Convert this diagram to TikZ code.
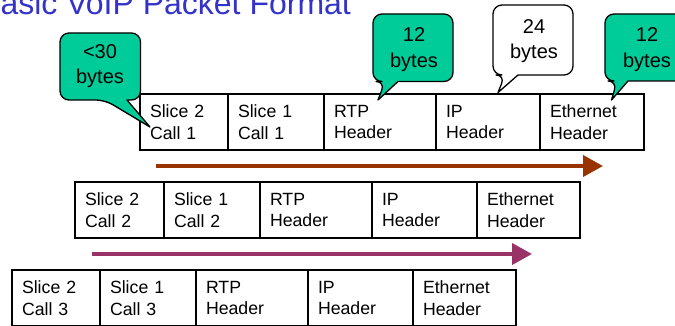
\documentclass[tikz,border=0pt]{standalone}
\usepackage{fontspec}
\setmainfont{Liberation Sans}
\usetikzlibrary{arrows.meta}
\definecolor{calloutgreen}{RGB}{0,204,153}
\definecolor{titleblue}{RGB}{51,51,204}
\definecolor{arrowbrown}{RGB}{153,51,0}
\definecolor{arrowpurple}{RGB}{153,51,102}
% #1 fill, #2 x1, #3 y1, #4 x2, #5 y2, #6 base left, #7 base right, #8 tip x, #9 tip y
\newcommand\mycallout[9]{%
  \filldraw[fill=#1, draw=black, line width=1.3pt, line join=round]
    [rounded corners=9pt] (#7,#5) -- (#4,#5) -- (#4,#3) -- (#2,#3) -- (#2,#5) -- (#6,#5)
    [sharp corners] -- (#8,#9) -- cycle;}
\begin{document}
\begin{tikzpicture}[x=1pt,y=-1pt,
  cell/.style={draw=black, fill=white, line width=1.3pt, anchor=north west,
    inner xsep=10pt, inner ysep=0pt, outer sep=0pt, minimum height=56pt, align=left,
    font=\fontsize{17.7}{21.7}\selectfont},
  ctext/.style={align=center, inner sep=0pt, font=\fontsize{20}{25.5}\selectfont},
  flow/.style={line width=4pt, -{Triangle[length=20pt,width=21pt]}}]
\useasboundingbox (0,0) rectangle (675,326);

\node[anchor=base west, inner sep=0pt, text=titleblue,
  font=\fontsize{32}{38}\selectfont] (title) at (-21,15) {Basic VoIP Packet Format};

% Row 1
\node[cell, text width=68pt] (a1) at (140,94) {Slice 2\\Call 1};
\node[cell, text width=76pt] (a2) at (a1.north east) {Slice 1\\Call 1};
\node[cell, text width=92pt] (a3) at (a2.north east) {RTP\\Header};
\node[cell, text width=84pt] (a4) at (a3.north east) {IP\\Header};
\node[cell, text width=84pt] (a5) at (a4.north east) {Ethernet\\Header};

% Row 2
\node[cell, text width=69pt] (b1) at (75,182) {Slice 2\\Call 2};
\node[cell, text width=76pt] (b2) at (b1.north east) {Slice 1\\Call 2};
\node[cell, text width=92pt] (b3) at (b2.north east) {RTP\\Header};
\node[cell, text width=85pt] (b4) at (b3.north east) {IP\\Header};
\node[cell, text width=83pt] (b5) at (b4.north east) {Ethernet\\Header};

% Row 3
\node[cell, text width=68pt] (c1) at (12,270) {Slice 2\\Call 3};
\node[cell, text width=76pt] (c2) at (c1.north east) {Slice 1\\Call 3};
\node[cell, text width=92pt] (c3) at (c2.north east) {RTP\\Header};
\node[cell, text width=85pt] (c4) at (c3.north east) {IP\\Header};
\node[cell, text width=83pt] (c5) at (c4.north east) {Ethernet\\Header};

% Arrows
\coordinate (p1s) at (156,166);
\coordinate (p1e) at (603,166);
\coordinate (p2s) at (92,254);
\coordinate (p2e) at (532,254);
\draw[flow, arrowbrown] (p1s) -- (p1e);
\draw[flow, arrowpurple] (p2s) -- (p2e);

% Callouts
\mycallout{calloutgreen}{60}{33}{140.5}{100}{105}{127}{150}{127}
\node[ctext] (t1) at (100,66) {<30\\bytes};
\mycallout{calloutgreen}{373}{14}{453}{81.5}{385}{398}{378}{100}
\node[ctext] (t2) at (414,49.5) {12\\bytes};
\mycallout{white}{493}{5}{573}{75}{505}{518}{498}{92.5}
\node[ctext] (t3) at (534,41) {24\\bytes};
\mycallout{calloutgreen}{605}{14}{686}{81}{617}{628}{611.5}{100}
\node[ctext] (t4) at (647,49.5) {12\\bytes};
\end{tikzpicture}
\end{document}
